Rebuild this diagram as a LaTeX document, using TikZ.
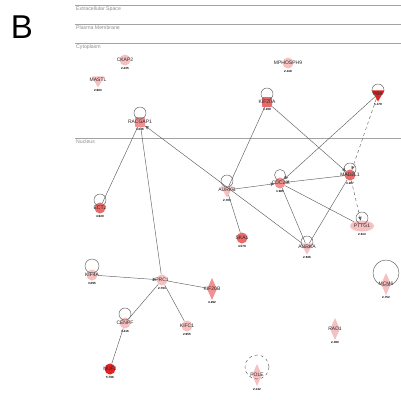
\documentclass[tikz,border=0pt]{standalone}
\usepackage{fontspec}
\setmainfont{Liberation Sans}
\usetikzlibrary{positioning,arrows,shapes.geometric}
\definecolor{lpink}{RGB}{247,192,192}
\definecolor{mpink}{RGB}{241,145,145}
\definecolor{rpink}{RGB}{236,105,105}
\definecolor{dred}{RGB}{226,34,34}
\definecolor{rgrey}{RGB}{140,140,140}
\definecolor{egrey}{RGB}{95,95,95}
\tikzset{
  glab/.style={font=\fontsize{5}{5}\selectfont, text=black!85, inner sep=0pt},
  gval/.style={font=\fontsize{3}{3}\selectfont\bfseries, inner sep=0pt},
  gcirc/.style={circle, minimum size=11pt, inner sep=0pt},
  gtri/.style={regular polygon, regular polygon sides=3, shape border rotate=180, minimum size=15pt, inner sep=0pt},
  gsq/.style={rectangle, rounded corners=1pt, minimum size=10pt, inner sep=0pt},
  gdia/.style={diamond, minimum width=10pt, minimum height=22pt, inner sep=0pt},
  gell/.style={ellipse, minimum width=24pt, minimum height=11pt, inner sep=0pt},
  selfloop/.style={draw=egrey, line width=0.45pt},
  link/.style={draw=egrey, line width=0.45pt, >=stealth'},
  region/.style={draw=rgrey!80, line width=0.6pt},
  rlab/.style={font=\fontsize{5.2}{5.2}\selectfont, text=rgrey, anchor=north west, inner sep=0pt}
}
\begin{document}
\begin{tikzpicture}[x=1pt,y=1pt]
  \useasboundingbox (0,0) rectangle (401,-402);
  % panel letter
  \node[font=\fontsize{33}{33}\selectfont] (panel) at (22,-27) {B};
  % compartments
  \draw[region] (75,-5) -- (401,-5);
  \draw[region] (75,-24) -- (401,-24);
  \draw[region] (75,-43) -- (401,-43);
  \draw[region] (75,-138) -- (401,-138);
  \node[rlab] (extra) at (76,-6.5) {Extracellular Space};
  \node[rlab] (plasma) at (76,-25.5) {Plasma Membrane};
  \node[rlab] (cyto) at (76,-44.5) {Cytoplasm};
  \node[rlab] (nucl) at (76,-139.5) {Nucleus};
  % genes
  \tikzset{every label/.style={label distance=1.5pt}}
  \node[gcirc, fill=lpink, label={[glab]center:CKAP2}, label={[gval]below:2.235}] (ckap2) at (125,-60) {};
  \node[gtri, fill=lpink, label={[glab]center:MASTL}, label={[gval]below:2.983}] (mastl) at (98,-80) {};
  \node[gsq, fill=mpink, label={[glab]center:RACGAP1}, label={[gval]below:3.046}] (racgap) at (140,-122) {};
  \node[gcirc, fill=lpink, label={[glab]center:MPHOSPH9}, label={[gval]below:2.418}] (mphosph) at (288,-63) {};
  \node[gsq, fill=rpink, label={[glab]center:KIF20A}, label={[gval]below:3.199}] (kif20a) at (267,-102) {};
  \node[gtri, fill=dred, label={[glab]center:PBK}, label={[gval]below:5.179}] (pbk) at (378,-94) {};
  \node[gtri, fill=lpink, label={[glab]center:AURKB}, label={[gval]below:2.700}] (aurkb) at (227,-190) {};
  \node[gcirc, fill=mpink, label={[glab]center:CDC20}, label={[gval]below:3.985}] (cdc20) at (280,-183) {};
  \node[gcirc, fill=rpink, label={[glab]center:MAD2L1}, label={[gval]below:3.207}] (mad2l1) at (350,-175) {};
  \node[gell, fill=lpink, label={[glab]center:PTTG1}, label={[gval]below:2.613}] (pttg1) at (362,-226) {};
  \node[gcirc, fill=rpink, label={[glab]center:SKA1}, label={[gval]below:4.579}] (ska1) at (242,-238) {};
  \node[gtri, fill=lpink, label={[glab]center:AURKA}, label={[gval]below:2.636}] (aurka) at (307,-247) {};
  \node[gcirc, fill=rpink, label={[glab]center:ECT2}, label={[gval]below:4.920}] (ect2) at (100,-208) {};
  \node[gcirc, fill=lpink, label={[glab]center:KIF4A}, label={[gval]below:3.095}] (kif4a) at (92,-275) {};
  \node[gcirc, fill=lpink, label={[glab]center:PRC1}, label={[gval]below:2.793}] (prc1) at (162,-280) {};
  \node[gdia, fill=mpink, label={[glab]center:KIF20B}, label={[gval]below:4.292}] (kif20b) at (212,-289) {};
  \node[gcirc, fill=lpink, label={[glab]center:CENPF}, label={[gval]below:4.416}] (cenpf) at (125,-323) {};
  \node[gcirc, fill=lpink, label={[glab]center:KIFC1}, label={[gval]below:2.955}] (kifc1) at (187,-326) {};
  \node[gcirc, fill=dred, label={[glab]center:NUF2}, label={[gval]below:5.796}] (nuf2) at (110,-369) {};
  \node[gdia, fill=lpink, label={[glab]center:RAD1}, label={[gval]below:2.390}] (rad1) at (335,-329) {};
  \node[gdia, fill=lpink, label={[glab]center:MCM6}, label={[gval]below:2.752}] (mcm6) at (386,-284) {};
  \node[gdia, fill=lpink, label={[glab]center:POLE}, label={[gval]below:2.142}] (pole) at (257,-375) {};
  % self loops
  \draw[selfloop] ([yshift=9pt]racgap.center) circle (6);
  \draw[selfloop] ([yshift=8pt]kif20a.center) circle (6);
  \draw[selfloop] ([yshift=4pt]pbk.center) circle (6);
  \draw[selfloop] ([yshift=9pt]aurkb.center) circle (6);
  \draw[selfloop] ([yshift=8pt]cdc20.center) circle (5.5);
  \draw[selfloop] ([yshift=6pt]mad2l1.center) circle (6);
  \draw[selfloop] ([yshift=8pt]pttg1.center) circle (6);
  \draw[selfloop] ([yshift=5pt]aurka.center) circle (6);
  \draw[selfloop] ([yshift=8pt]ect2.center) circle (6);
  \draw[selfloop] ([yshift=9pt]kif4a.center) circle (7);
  \draw[selfloop] ([yshift=9pt]cenpf.center) circle (6);
  \draw[selfloop] ([yshift=11pt]mcm6.center) circle (13);
  \draw[selfloop, dashed] ([yshift=8pt]pole.center) circle (12);
  % interactions
  \draw[link] (racgap) -- (ect2);
  \draw[link] (racgap) -- (prc1);
  \draw[link,->] (aurka) -- (racgap);
  \draw[link] (kif20a) -- (aurkb);
  \draw[link,->] (kif20a) -- (mad2l1);
  \draw[link,->] (pbk) -- (cdc20);
  \draw[link,->,dashed] (pbk) -- (mad2l1);
  \draw[link,->,dashed] (mad2l1) -- (pttg1);
  \draw[link,->] (aurkb) -- (cdc20);
  \draw[link,->] (mad2l1) -- (cdc20);
  \draw[link] (aurkb) -- (ska1);
  \draw[link] (cdc20) -- (aurka);
  \draw[link] (mad2l1) -- (aurka);
  \draw[link] (cdc20) -- (pttg1);
  \draw[link,->] (kif4a) -- (prc1);
  \draw[link] (prc1) -- (kif20b);
  \draw[link] (prc1) -- (cenpf);
  \draw[link] (prc1) -- (kifc1);
  \draw[link] (cenpf) -- (nuf2);
\end{tikzpicture}
\end{document}
